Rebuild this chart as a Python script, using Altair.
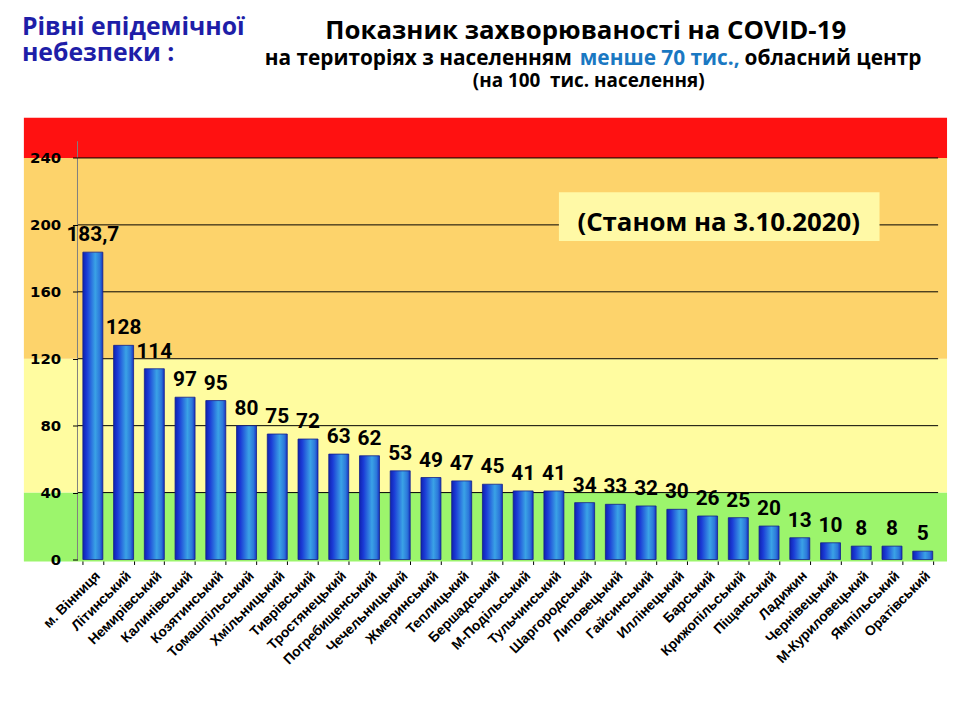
import altair as alt
import pandas as pd

# ---------------- data ----------------
districts = ["м. Вінниця", "Літинський", "Немирівський", "Калинівський", "Козятинський",
             "Томашпільський", "Хмільницький", "Тиврівський", "Тростянецький", "Погребищенський",
             "Чечельницький", "Жмеринський", "Теплицький", "Бершадський", "М-Подільський",
             "Тульчинський", "Шаргородський", "Липовецький", "Гайсинський", "Иллінецький",
             "Барський", "Крижопільський", "Піщанський", "Ладижин", "Чернівецький",
             "М-Куриловецький", "Ямпільський", "Оратівський"]
rates = [183.7, 128, 114, 97, 95, 80, 75, 72, 63, 62, 53, 49, 47, 45, 41, 41,
         34, 33, 32, 30, 26, 25, 20, 13, 10, 8, 8, 5]
rate_labels = [f"{v:g}".replace(".", ",") for v in rates]

band_low = [-1.2, 40, 120, 240]
band_high = [40, 120, 240, 264]
band_colors = ["#9CF56C", "#FFFCA0", "#FDD36B", "#FF1111"]

grid_values = [40, 80, 120, 160, 200, 240]
y_ticks = [0, 40, 80, 120, 160, 200, 240]

W, H = 867, 445

df = pd.DataFrame({"district": districts, "rate": rates, "label": rate_labels})
bands = pd.DataFrame({"lo": band_low, "hi": band_high, "c": band_colors})
grid = pd.DataFrame({"v": grid_values})

yscale = alt.Scale(domain=[0, 264], nice=False, zero=True)
xscale = alt.Scale(paddingInner=0.35, paddingOuter=0.175)

band_layer = alt.Chart(bands).mark_rect().encode(
    x=alt.value(-54), x2=alt.value(876),
    y=alt.Y("lo:Q", scale=yscale,
            axis=alt.Axis(values=y_ticks, grid=False, domain=False, tickColor="black",
                          tickSize=5, labelFont="DejaVu Sans", labelFontWeight="bold",
                          labelFontSize=15, labelColor="black", labelPadding=12, title=None,
                          zindex=1)),
    y2="hi:Q",
    color=alt.Color("c:N", scale=None),
)

grid_layer = alt.Chart(grid).mark_rule(color="black", strokeWidth=1).encode(
    x=alt.value(0), x2=alt.value(W), y=alt.Y("v:Q", scale=yscale)
)

one = alt.Data(values=[{}])

yaxis_line = alt.Chart(one).mark_rule(color="#808080", strokeWidth=1).encode(
    x=alt.value(0), y=alt.datum(0, scale=yscale), y2=alt.datum(250)
)

box = alt.Chart(one).mark_rect(color="#FFF9A6").encode(
    x=alt.value(485), x2=alt.value(808), y=alt.value(75), y2=alt.value(124)
)
box_text = alt.Chart(one).mark_text(
    text="(Станом на 3.10.2020)", font="Open Sans", fontWeight="bold", fontSize=26,
    color="black", align="center", baseline="alphabetic"
).encode(x=alt.value(646), y=alt.value(114))

bar_gradient = alt.Gradient(
    gradient="linear", x1=0, x2=1, y1=0, y2=0,
    stops=[alt.GradientStop(color="#0F22B0", offset=0),
           alt.GradientStop(color="#1B3CD6", offset=0.2),
           alt.GradientStop(color="#3AA2E6", offset=0.62),
           alt.GradientStop(color="#2C78DA", offset=0.85),
           alt.GradientStop(color="#1733C2", offset=1)],
)

bars = alt.Chart(df).mark_bar(color=bar_gradient, stroke="#14208A", strokeWidth=0.8).encode(
    x=alt.X("district:N", sort=districts, scale=xscale,
            axis=alt.Axis(title=None, labelAngle=315, labelFont="Liberation Sans",
                          labelFontWeight="bold", labelFontSize=14, labelColor="black",
                          tickBand="extent", tickColor="black", tickSize=5,
                          domainColor="black", labelPadding=4, labelLimit=300)),
    y=alt.Y("rate:Q", scale=yscale),
)

values_text = alt.Chart(df).mark_text(
    font="Roboto", fontWeight="bold", fontSize=21, color="black",
    baseline="alphabetic", dy=-11
).encode(
    x=alt.X("district:N", sort=districts, scale=xscale),
    y=alt.Y("rate:Q", scale=yscale),
    text="label:N",
)


def txt(text, x, y, size, color="black", align="center", font="Open Sans"):
    return alt.Chart(one).mark_text(
        text=text, font=font, fontWeight="bold", fontSize=size, color=color,
        align=align, baseline="alphabetic"
    ).encode(x=alt.value(x), y=alt.value(y))


titles = [
    txt("Рівні епідемічної", -56, -83, 25, color="#1E1EA8", align="left"),
    txt("небезпеки :", -56, -57, 25, color="#1E1EA8", align="left"),
    txt("Показник захворюваності на COVID-19", 512, -79, 26),
    txt("на територіях з населенням", 498, -53, 21, align="right"),
    txt("менше 70 тис.,", 506, -53, 21, color="#1A78C2", align="left"),
    txt("обласний центр", 672, -53, 21, align="left"),
    txt("(на 100\u00a0 тис. населення)", 515, -31, 19),
]

chart = alt.layer(
    band_layer, grid_layer, yaxis_line, box, box_text, bars, values_text, *titles
).properties(
    width=W, height=H,
    autosize=alt.AutoSizeParams(type="none"),
    padding={"left": 70, "top": 108, "right": 14, "bottom": 150},
    background="white",
).configure_view(stroke=None)

chart.save("out.html", embed_options={"renderer": "svg", "actions": False})
